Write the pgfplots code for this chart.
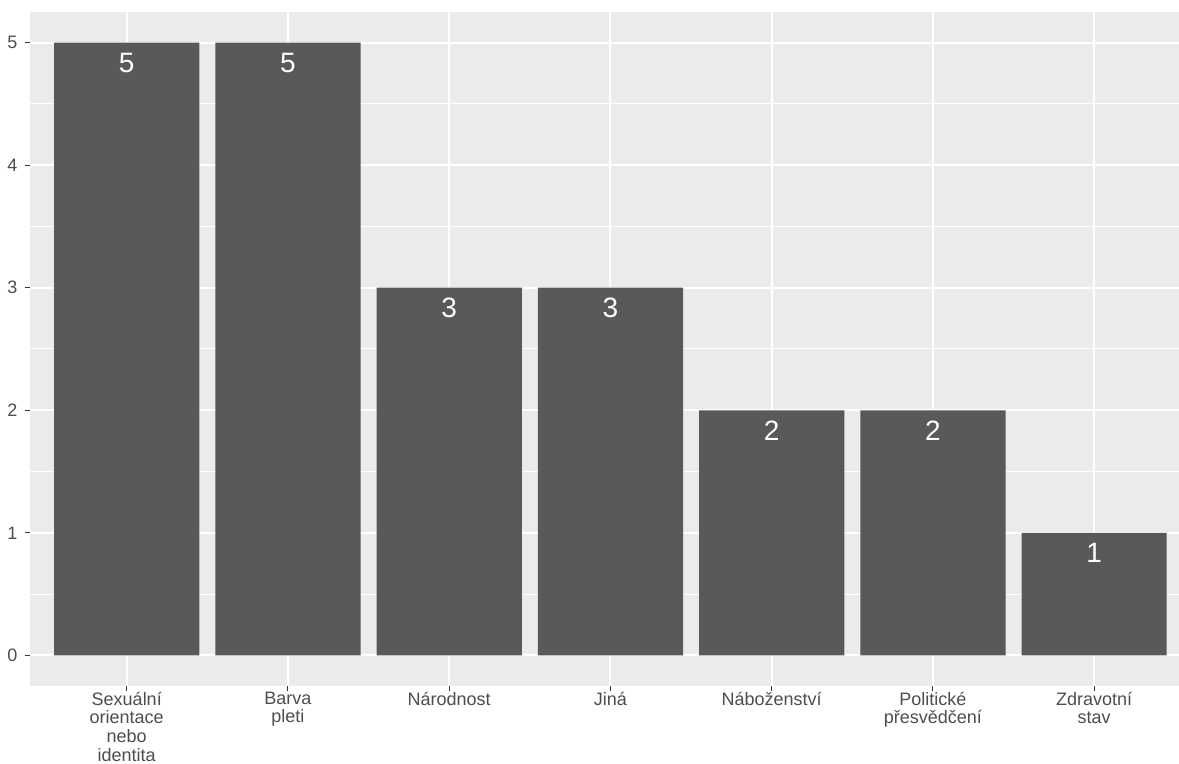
\documentclass[border=0pt]{standalone}
\usepackage{pgfplots}
\pgfplotsset{compat=1.18}
\usepackage{fontspec}
\setmainfont{Liberation Sans}
\definecolor{panelbg}{HTML}{EBEBEB}
\definecolor{barfill}{HTML}{595959}
\definecolor{ticktext}{HTML}{4D4D4D}
\definecolor{tickcol}{HTML}{333333}
\begin{document}
\begin{tikzpicture}
\useasboundingbox (0,0) rectangle (589.5pt,382pt);
\begin{axis}[
  at={(15pt,39pt)}, anchor=south west,
  scale only axis, width=574.5pt, height=337pt,
  xmin=0.4, xmax=7.526, ymin=-0.25, ymax=5.25,
  axis background/.style={fill=panelbg},
  axis line style={draw=none},
  tick align=outside, xtick pos=left, ytick pos=left,
  major tick length=2.75pt, minor tick length=0pt,
  tick style={draw=tickcol, line width=0.5pt},
  xtick={1,2,3,4,5,6,7},
  xticklabels={{Sexuální\\orientace\\nebo\\identita},{Barva\\pleti},{Národnost},{Jiná},{Náboženství},{Politické\\přesvědčení},{Zdravotní\\stav}},
  ytick={0,1,2,3,4,5},
  minor ytick={0.5,1.5,2.5,3.5,4.5},
  grid=both,
  major grid style={white, line width=1pt},
  minor grid style={white, line width=0.5pt},
  ticklabel style={font=\fontsize{9}{9.3}\selectfont, text=ticktext},
  xticklabel style={align=center, yshift=3.3pt},
  /pgf/number format/assume math mode=true,
  ybar, bar width=0.9, bar shift=0pt,
  nodes near coords,
  every node near coord/.append style={anchor=north, yshift=-5pt, inner sep=0pt, text=white, font=\fontsize{14}{16}\selectfont},
]
\addplot[fill=barfill, draw=none] coordinates {(1,5) (2,5) (3,3) (4,3) (5,2) (6,2) (7,1)};
\end{axis}
\end{tikzpicture}
\end{document}
